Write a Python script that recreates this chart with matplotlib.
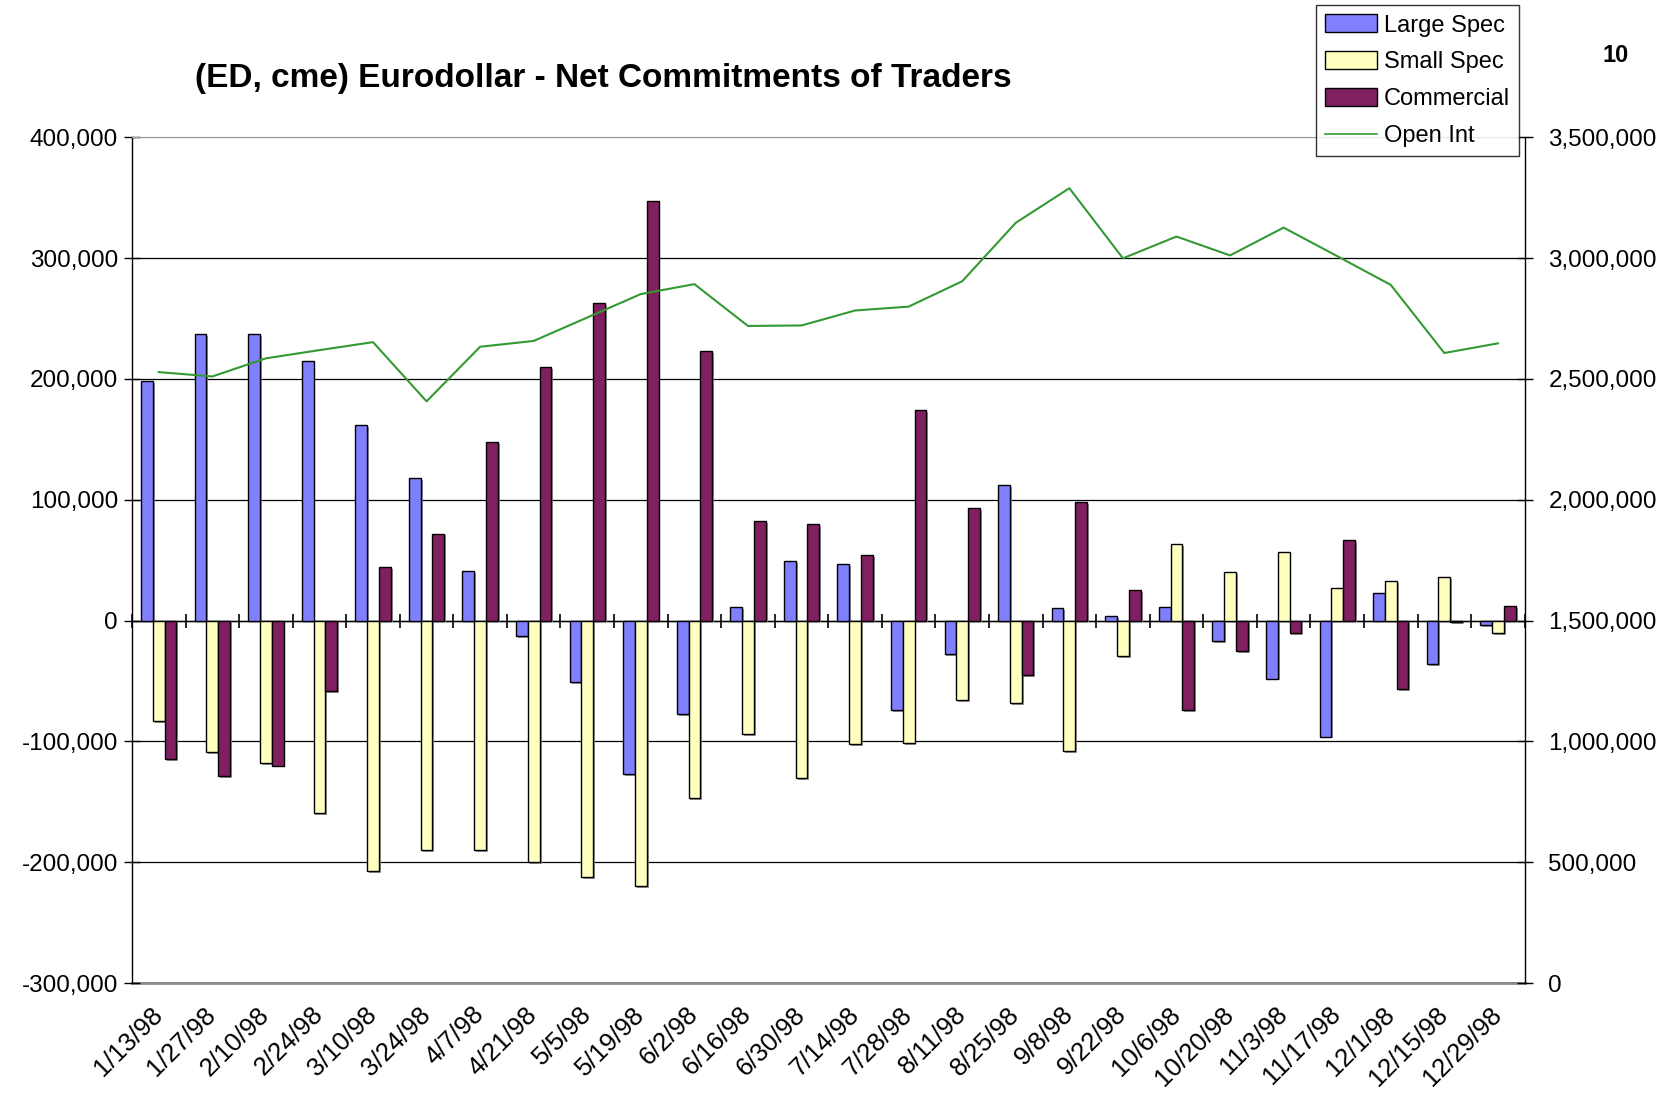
import numpy as np
import matplotlib
matplotlib.use("Agg")
import matplotlib.pyplot as plt
import matplotlib.patheffects as pe
from matplotlib.ticker import FuncFormatter, FixedLocator
from matplotlib.patches import Patch
from matplotlib.lines import Line2D

plt.rcParams['font.family'] = ['Liberation Sans', 'DejaVu Sans']

dates = ["1/13/98", "1/27/98", "2/10/98", "2/24/98", "3/10/98", "3/24/98", "4/7/98",
         "4/21/98", "5/5/98", "5/19/98", "6/2/98", "6/16/98", "6/30/98", "7/14/98",
         "7/28/98", "8/11/98", "8/25/98", "9/8/98", "9/22/98", "10/6/98", "10/20/98",
         "11/3/98", "11/17/98", "12/1/98", "12/15/98", "12/29/98"]

large_spec = [198000, 237000, 237000, 215000, 162000, 118000, 41000, -13000, -51000,
              -127000, -77000, 11000, 49000, 47000, -74000, -28000, 112000, 10000,
              4000, 11000, -17000, -48000, -96000, 23000, -36000, -4000]
small_spec = [-83000, -109000, -118000, -159000, -207000, -190000, -190000, -200000,
              -212000, -220000, -147000, -94000, -130000, -102000, -101000, -66000,
              -68000, -108000, -29000, 63000, 40000, 57000, 27000, 33000, 36000, -10000]
commercial = [-115000, -129000, -120000, -58000, 44000, 72000, 148000, 210000, 263000,
              347000, 223000, 82000, 80000, 54000, 174000, 93000, -45000, 98000,
              25000, -74000, -25000, -10000, 67000, -57000, -1000, 12000]
open_int = [2528000, 2510000, 2585000, 2619000, 2652000, 2407000, 2633000, 2657000,
            2754000, 2851000, 2892000, 2719000, 2721000, 2783000, 2799000, 2904000,
            3146000, 3289000, 2999000, 3089000, 3011000, 3126000, 3008000, 2889000,
            2607000, 2647000]

left_ticks = [-300000, -200000, -100000, 0, 100000, 200000, 300000, 400000]
right_ticks = [0, 500000, 1000000, 1500000, 2000000, 2500000, 3000000, 3500000]

c_large = '#8080FF'
c_small = '#FFFFC0'
c_comm = '#802060'
c_oi = '#339933'

fig = plt.figure(figsize=(16.81, 11.04), dpi=100)
ax = fig.add_axes([0.0785, 0.1096, 0.907 - 0.0785, 0.8757 - 0.1096])

x = np.arange(len(dates))
w = 0.22
shadow = [pe.SimplePatchShadow(offset=(1.4, -1.4), shadow_rgbFace='0.55', alpha=0.9), pe.Normal()]
for vals, off, col in [(large_spec, -w, c_large), (small_spec, 0, c_small), (commercial, w, c_comm)]:
    bars = ax.bar(x + off, vals, width=w, color=col, edgecolor='black', linewidth=1.0, zorder=3)
    for b in bars:
        b.set_path_effects(shadow)

ax.set_xlim(-0.5, len(dates) - 0.5)
ax.set_ylim(-300000, 400000)
ax.yaxis.set_major_locator(FixedLocator(left_ticks))
ax.yaxis.set_major_formatter(FuncFormatter(lambda v, p: f"{int(v):,}"))
ax.grid(axis='y', color='black', linewidth=0.9, zorder=0)
ax.set_axisbelow(True)
ax.tick_params(axis='y', direction='inout', length=12, width=1, labelsize=17.5, pad=4)
ax.yaxis.get_major_ticks()[-1].gridline.set_color('0.6')

# category axis crossing at zero with boundary tick marks
ax.spines['bottom'].set_position(('data', 0))
ax.spines['bottom'].set_linewidth(1.0)
ax.set_xticks(np.arange(-0.5, len(dates), 1.0))
ax.set_xticklabels([])
ax.tick_params(axis='x', direction='inout', length=10, width=1.2, color='black')
ax.spines['top'].set_color('0.6')
ax.spines['left'].set_linewidth(1.0)
ax.spines['right'].set_visible(False)

sec = ax.secondary_xaxis(0.0)
sec.set_xticks(x)
sec.set_xticklabels(dates, rotation=45, ha='right', va='center', rotation_mode='anchor', fontsize=18.5)
sec.tick_params(axis='x', length=0, pad=20)
sec.spines['bottom'].set_color('0.55')
sec.spines['bottom'].set_linewidth(2.0)

ax2 = ax.twinx()
ax2.plot(x, open_int, color=c_oi, linewidth=1.5, zorder=5)
ax2.set_ylim(0, 3500000)
ax2.yaxis.set_major_locator(FixedLocator(right_ticks))
ax2.yaxis.set_major_formatter(FuncFormatter(lambda v, p: f"{int(v):,}"))
ax2.tick_params(axis='y', direction='inout', length=12, width=1, labelsize=17.5, pad=11)
for s in ['top', 'left', 'bottom']:
    ax2.spines[s].set_visible(False)
ax2.spines['right'].set_linewidth(1.0)

fig.text(0.359, 0.929, "(ED, cme) Eurodollar - Net Commitments of Traders",
         fontsize=24, fontweight='bold', ha='center', va='center')
fig.text(0.961, 0.9495, "10", fontsize=17, fontweight='bold', ha='center', va='center')

handles = [Patch(facecolor=c_large, edgecolor='black', linewidth=1.0, label='Large Spec'),
           Patch(facecolor=c_small, edgecolor='black', linewidth=1.0, label='Small Spec'),
           Patch(facecolor=c_comm, edgecolor='black', linewidth=1.0, label='Commercial'),
           Line2D([0], [0], color=c_oi, linewidth=1.2, label='Open Int')]
leg = fig.legend(handles=handles, loc='upper right', bbox_to_anchor=(0.9036, 0.9951),
                 fontsize=17, frameon=True, fancybox=False, shadow=False,
                 handlelength=2.2, handleheight=0.8, handletextpad=0.3,
                 labelspacing=0.62, borderpad=0.38, borderaxespad=0.0)
leg.get_frame().set_edgecolor('black')
leg.get_frame().set_linewidth(1.0)

fig.savefig('out.png', dpi=100)
